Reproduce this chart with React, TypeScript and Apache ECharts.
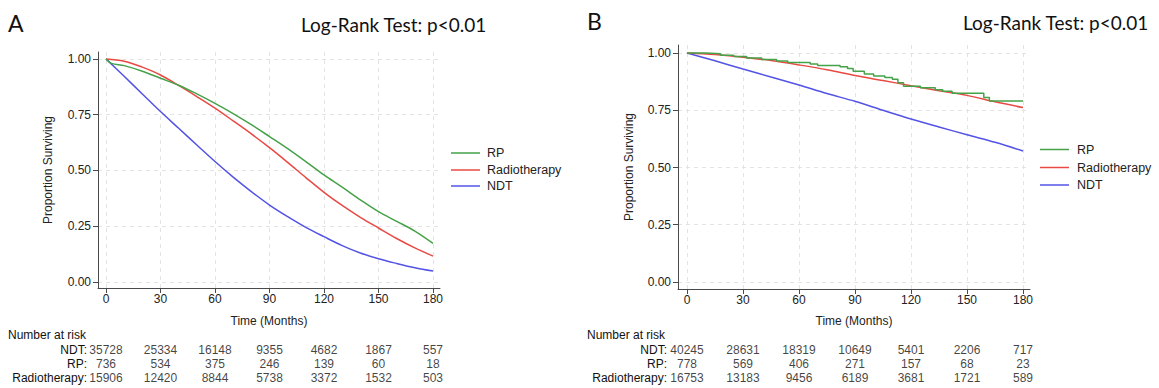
import React, { useEffect, useRef } from 'react';
import * as echarts from 'echarts';

// ---------- data ----------
const riskMonths = [0, 30, 60, 90, 120, 150, 180];
const yTicks = [0, 0.25, 0.5, 0.75, 1];
const groupNames = ['RP', 'Radiotherapy', 'NDT'];
const riskRows = ['NDT', 'RP', 'Radiotherapy'];

// Panel A (curves)
const aTimes = [0, 10, 20, 30, 40, 50, 60, 70, 80, 90, 100, 110, 120, 130, 140, 150, 160, 170, 180];
const aNDT = [1.0, 0.922, 0.843, 0.764, 0.689, 0.614, 0.54, 0.47, 0.405, 0.345, 0.293, 0.245, 0.203, 0.163, 0.13, 0.104, 0.083, 0.064, 0.049];
const aRadio = [1.0, 0.99, 0.963, 0.928, 0.881, 0.831, 0.779, 0.722, 0.664, 0.602, 0.536, 0.468, 0.402, 0.343, 0.29, 0.242, 0.195, 0.153, 0.116];
const aRPTimes = [0, 3, 10, 20, 30, 40, 50, 60, 70, 80, 90, 100, 110, 120, 130, 140, 150, 160, 170, 180];
const aRP = [1.0, 0.98, 0.97, 0.945, 0.913, 0.882, 0.843, 0.801, 0.755, 0.705, 0.652, 0.598, 0.54, 0.48, 0.425, 0.368, 0.315, 0.272, 0.228, 0.173];

// Panel B (curves)
const bTimes = [0, 15, 30, 45, 60, 75, 90, 105, 120, 135, 150, 165, 180];
const bNDT = [1.0, 0.966, 0.93, 0.895, 0.86, 0.823, 0.789, 0.75, 0.712, 0.677, 0.643, 0.61, 0.572];
const bRadio = [1.0, 0.993, 0.982, 0.967, 0.948, 0.927, 0.902, 0.88, 0.857, 0.835, 0.815, 0.787, 0.762];
const bRPTimes = [0, 10, 18, 25, 32, 40, 48, 54, 66, 70, 82, 86, 89, 95, 100, 106, 110, 113, 116, 125, 133, 137, 142, 159, 162, 180];
const bRP = [1.0, 0.997, 0.99, 0.985, 0.978, 0.972, 0.965, 0.959, 0.952, 0.946, 0.94, 0.932, 0.92, 0.908, 0.9, 0.893, 0.885, 0.87, 0.855, 0.848, 0.84, 0.833, 0.824, 0.806, 0.79, 0.79];

// Number at risk
const aRiskNDT = [35728, 25334, 16148, 9355, 4682, 1867, 557];
const aRiskRP = [736, 534, 375, 246, 139, 60, 18];
const aRiskRadio = [15906, 12420, 8844, 5738, 3372, 1532, 503];
const bRiskNDT = [40245, 28631, 18319, 10649, 5401, 2206, 717];
const bRiskRP = [778, 569, 406, 271, 157, 68, 23];
const bRiskRadio = [16753, 13183, 9456, 6189, 3681, 1721, 589];

// ---------- styles ----------
const COLORS: Record<string, string> = { RP: '#45a249', Radiotherapy: '#e84a43', NDT: '#5353e6' };
const FONT = '"Liberation Sans", Arial, Helvetica, sans-serif';
const TITLE_FONT = 'Lato, "Open Sans", sans-serif';
const AXIS_COLOR = '#4a4a4a';

const pairs = (t: number[], v: number[]) => t.map((x, i) => [x, v[i]]);

function plotAxes(gridIndex: number, xMin: number, xMax: number, yMin: number, yMax: number, yNameGap: number, xNameGap: number) {
  const x = {
    type: 'value', gridIndex, min: xMin, max: xMax,
    axisLine: { show: true, onZero: false, lineStyle: { color: AXIS_COLOR, width: 1 } },
    axisTick: { show: true, length: 5, customValues: riskMonths, lineStyle: { color: AXIS_COLOR } },
    axisLabel: { customValues: riskMonths, color: '#222', fontSize: 12, fontFamily: FONT, margin: 5 },
    splitLine: { show: true, lineStyle: { color: '#e3e3e3', type: [4, 4], width: 1 } },
    name: 'Time (Months)', nameLocation: 'middle', nameGap: xNameGap,
    nameTextStyle: { color: '#222', fontSize: 12, fontFamily: FONT },
  };
  const y = {
    type: 'value', gridIndex, min: yMin, max: yMax,
    axisLine: { show: true, onZero: false, lineStyle: { color: AXIS_COLOR, width: 1 } },
    axisTick: { show: true, length: 5, customValues: yTicks, lineStyle: { color: AXIS_COLOR } },
    axisLabel: { customValues: yTicks, color: '#222', fontSize: 12, fontFamily: FONT, margin: 7, formatter: (v: number) => v.toFixed(2) },
    splitLine: { show: true, lineStyle: { color: '#e3e3e3', type: [4, 4], width: 1 } },
    name: 'Proportion Surviving', nameLocation: 'middle', nameGap: yNameGap,
    nameTextStyle: { color: '#222', fontSize: 12, fontFamily: FONT },
  };
  return { x, y };
}

function riskAxes(gridIndex: number, margin: number) {
  const x = { type: 'value', gridIndex, min: 0, max: 180, show: false };
  const y = {
    type: 'category', gridIndex, data: riskRows, inverse: true,
    axisLine: { show: false }, axisTick: { show: false }, splitLine: { show: false },
    axisLabel: { interval: 0, color: '#111', fontSize: 12, fontFamily: FONT, margin, formatter: (v: string) => v + ':' },
  };
  return { x, y };
}

function riskSeries(axisIndex: number, rows: number[][]) {
  const data: any[] = [];
  riskRows.forEach((r, ri) => {
    riskMonths.forEach((m, i) => data.push([m, r, rows[ri][i]]));
  });
  return {
    type: 'scatter', xAxisIndex: axisIndex, yAxisIndex: axisIndex, silent: true,
    symbolSize: 1, itemStyle: { color: 'rgba(0,0,0,0)' },
    labelLayout: { hideOverlap: false },
    label: { show: true, position: 'inside', formatter: (p: any) => String(p.value[2]), color: '#111', fontSize: 12, fontFamily: FONT },
    data,
  };
}

function curve(name: string, axisIndex: number, data: number[][], step?: string) {
  return {
    type: 'line', name, xAxisIndex: axisIndex, yAxisIndex: axisIndex, data,
    showSymbol: false, symbol: 'none', smooth: step ? false : 0.35, step: step || false,
    lineStyle: { color: COLORS[name], width: 1.5 }, itemStyle: { color: COLORS[name] },
    silent: true, z: name === 'RP' ? 4 : name === 'Radiotherapy' ? 3 : 2,
  };
}

function legendGraphic(x1: number, x2: number, tx: number, ys: number[]) {
  const els: any[] = [];
  groupNames.forEach((n, i) => {
    els.push({ type: 'line', shape: { x1, y1: ys[i], x2, y2: ys[i] }, style: { stroke: COLORS[n], lineWidth: 1.5 }, silent: true });
    els.push({ type: 'text', style: { text: n, x: tx, y: ys[i], fill: '#222', fontSize: 12.5, fontFamily: FONT, verticalAlign: 'middle' }, silent: true });
  });
  return els;
}

function textEl(text: string, x: number, y: number, size: number, fam: string, color = '#111') {
  return { type: 'text', style: { text, x, y, fill: color, fontSize: size, fontFamily: fam, verticalAlign: 'middle' }, silent: true };
}

function buildOption() {
  const pa = plotAxes(0, -4.4, 183.85, -0.027, 1.031, 44, 27);
  const pb = plotAxes(1, -4.82, 183.75, -0.0306, 1.035, 43, 26);
  const ra = riskAxes(2, 19);
  const rb = riskAxes(3, 20);
  return {
    animation: false,
    backgroundColor: '#ffffff',
    grid: [
      { left: 98, top: 52, width: 342, height: 236 },
      { left: 678, top: 45, width: 352, height: 244 },
      { left: 106, top: 343, width: 327, height: 42 },
      { left: 687, top: 343, width: 336, height: 42 },
    ],
    xAxis: [pa.x, pb.x, ra.x, rb.x],
    yAxis: [pa.y, pb.y, ra.y, rb.y],
    series: [
      curve('NDT', 0, pairs(aTimes, aNDT)),
      curve('Radiotherapy', 0, pairs(aTimes, aRadio)),
      curve('RP', 0, pairs(aRPTimes, aRP)),
      curve('NDT', 1, pairs(bTimes, bNDT)),
      curve('Radiotherapy', 1, pairs(bTimes, bRadio)),
      curve('RP', 1, pairs(bRPTimes, bRP), 'end'),
      riskSeries(2, [aRiskNDT, aRiskRP, aRiskRadio]),
      riskSeries(3, [bRiskNDT, bRiskRP, bRiskRadio]),
    ],
    graphic: [
      textEl('A', 8, 23, 23, TITLE_FONT),
      textEl('Log-Rank Test: p<0.01', 301, 24, 19, TITLE_FONT),
      textEl('B', 587, 21, 23, TITLE_FONT),
      textEl('Log-Rank Test: p<0.01', 963, 22, 19, TITLE_FONT),
      textEl('Number at risk', 8, 335, 12, FONT),
      textEl('Number at risk', 587, 335, 12, FONT),
      ...legendGraphic(451, 480, 487, [153, 170, 186]),
      ...legendGraphic(1040, 1069, 1077, [149.5, 167.5, 185]),
    ],
  };
}

export default function App() {
  const ref = useRef<HTMLDivElement>(null);
  useEffect(() => {
    document.body.style.margin = '0';
    const chart = echarts.init(ref.current as HTMLDivElement, null, { renderer: 'svg' });
    chart.setOption(buildOption() as any);
    return () => chart.dispose();
  }, []);
  return <div ref={ref} style={{ width: 1159, height: 388 }} />;
}
